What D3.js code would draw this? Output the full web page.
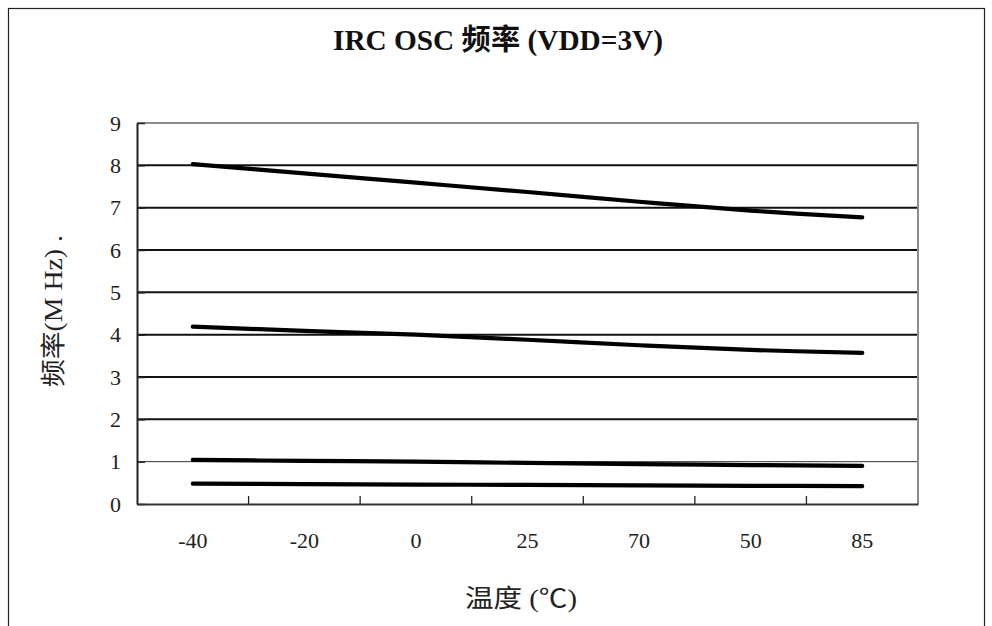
<!DOCTYPE html>
<html>
<head>
<meta charset="utf-8">
<script src="https://cdn.jsdelivr.net/npm/d3@7"></script>
<style>
  html, body { margin: 0; padding: 0; background: #fff; }
  svg { display: block; }
  .serif { font-family: "Liberation Serif", "Noto Sans CJK SC", serif; }
</style>
</head>
<body>
<svg id="chart" width="992" height="626"></svg>
<script>
// ---- data ----
const categories = ["-40", "-20", "0", "25", "70", "50", "85"];
const series1 = [8.03, 7.81, 7.59, 7.37, 7.14, 6.93, 6.77];
const series2 = [4.19, 4.09, 4.00, 3.88, 3.75, 3.64, 3.57];
const series3 = [1.04, 1.02, 1.00, 0.97, 0.94, 0.92, 0.90];
const series4 = [0.48, 0.47, 0.46, 0.45, 0.44, 0.43, 0.42];
const yTicks = [0, 1, 2, 3, 4, 5, 6, 7, 8, 9];
const titleText = "IRC OSC 频率 (VDD=3V)";
const xTitle = "温度 (℃)";
const yTitle = "频率(M Hz)  .";

const allSeries = [series1, series2, series3, series4];

const svg = d3.select("#chart");
const plot = { left: 137, right: 918, top: 123, bottom: 504 };

// outer frame
svg.append("rect")
  .attr("x", 8.5).attr("y", 8.5)
  .attr("width", 976).attr("height", 640)
  .attr("fill", "none").attr("stroke", "#222").attr("stroke-width", 1.2);

const x = d3.scaleBand().domain(categories).range([plot.left, plot.right]).padding(0);
const y = d3.scaleLinear().domain([0, 9]).range([plot.bottom, plot.top]);

// gridlines
svg.append("g").selectAll("line")
  .data(yTicks.filter(v => v > 0 && v < 9))
  .join("line")
  .attr("x1", plot.left).attr("x2", plot.right)
  .attr("y1", d => y(d)).attr("y2", d => y(d))
  .attr("stroke", d => d === 1 ? "#333" : "#111")
  .attr("stroke-width", d => d === 1 ? 1 : 2);

// top & right border (gray)
svg.append("path")
  .attr("d", `M${plot.left},${y(9)}H${plot.right}V${plot.bottom}`)
  .attr("fill", "none").attr("stroke", "#8c8c8c").attr("stroke-width", 2);

// y axis
const yAxis = d3.axisLeft(y).tickValues(yTicks).tickFormat(d3.format("d"))
  .tickSizeInner(-8).tickSizeOuter(0).tickPadding(16);
const gy = svg.append("g").attr("transform", `translate(${plot.left},0)`).call(yAxis);
gy.select(".domain").attr("stroke", "#222").attr("stroke-width", 2);
gy.selectAll(".tick line").attr("stroke", "#222").attr("stroke-width", 1.5);
gy.selectAll(".tick text")
  .attr("class", "serif").attr("font-size", 22).attr("fill", "#222");

// x axis (category, ticks between bands, pointing inward)
const xAxis = d3.axisBottom(x).tickSize(0).tickPadding(0);
const gx = svg.append("g").attr("transform", `translate(0,${plot.bottom})`).call(xAxis);
gx.select(".domain").attr("stroke", "#333").attr("stroke-width", 2);
gx.selectAll(".tick text")
  .attr("class", "serif").attr("font-size", 22).attr("fill", "#222")
  .attr("dy", "1.1em").attr("y", 20);
gx.selectAll(".sep")
  .data(categories.slice(1))
  .join("line")
  .attr("class", "sep")
  .attr("x1", d => x(d)).attr("x2", d => x(d))
  .attr("y1", 0).attr("y2", -8)
  .attr("stroke", "#222").attr("stroke-width", 1.3);

// series lines
const line = d3.line()
  .x((d, i) => x(categories[i]) + x.bandwidth() / 2)
  .y(d => y(d))
  .curve(d3.curveCatmullRom.alpha(0.5));

svg.append("g").selectAll("path")
  .data(allSeries)
  .join("path")
  .attr("d", line)
  .attr("fill", "none")
  .attr("stroke", "#000")
  .attr("stroke-width", 4.2)
  .attr("stroke-linecap", "round")
  .attr("stroke-linejoin", "round");

// title
svg.append("text")
  .attr("class", "serif")
  .attr("x", 498).attr("y", 50)
  .attr("text-anchor", "middle")
  .attr("font-size", 29).attr("font-weight", "bold").attr("fill", "#111")
  .attr("textLength", 330).attr("lengthAdjust", "spacingAndGlyphs")
  .text(titleText);

// x title
svg.append("text")
  .attr("class", "serif")
  .attr("x", 521).attr("y", 607)
  .attr("text-anchor", "middle")
  .attr("font-size", 25).attr("fill", "#222")
  .attr("textLength", 112).attr("lengthAdjust", "spacingAndGlyphs")
  .text(xTitle);

// y title
svg.append("text")
  .attr("class", "serif")
  .attr("transform", "translate(62,311) rotate(-90)")
  .attr("text-anchor", "middle")
  .attr("font-size", 25).attr("fill", "#222")
  .attr("textLength", 152).attr("lengthAdjust", "spacingAndGlyphs")
  .text(yTitle);
</script>
</body>
</html>
